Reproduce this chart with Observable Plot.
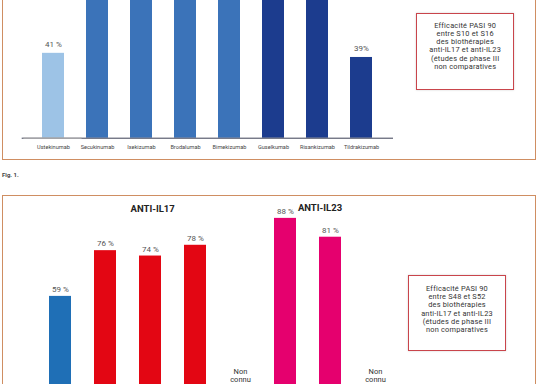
<!DOCTYPE html>
<html>
<head>
<meta charset="utf-8">
<script src="https://cdn.jsdelivr.net/npm/d3@7"></script>
<script src="https://cdn.jsdelivr.net/npm/@observablehq/plot@0.6"></script>
<style>
  html, body { margin: 0; padding: 0; background: #fff; }
  body { width: 538px; height: 384px; overflow: hidden; position: relative; font-family: Roboto, "Noto Sans", sans-serif; }
  .panel { position: absolute; box-sizing: border-box; border: 1.5px solid #cf8e62; }
  .chart { position: absolute; left: 0; }
  .info { position: absolute; box-sizing: border-box; border: 1.3px solid #c9454b; background: #fff;
          box-shadow: 0 0 2px rgba(0,0,0,0.18); text-align: center; color: #333; font-size: 7.4px; letter-spacing: 0.2px; white-space: nowrap; }
  .fig { position: absolute; left: 2px; top: 170.5px; font-size: 6px; line-height: 7px; font-weight: 700; color: #444; }
  .title { position: absolute; transform: translateX(-50%); font-size: 9.5px; line-height: 11px; font-weight: 700; color: #222; white-space: nowrap; }
</style>
</head>
<body>
<div class="panel" style="left:2px; top:-10px; width:534px; height:169.5px;"></div>
<div class="panel" style="left:2px; top:195.3px; width:534px; height:300px;"></div>
<div id="top" class="chart" style="top:-80px;"></div>
<div id="bottom" class="chart" style="top:180px;"></div>
<div class="info" style="left:416px; top:12.7px; width:98.3px; height:77.3px; padding-top:7.9px; line-height:8.3px;">
  Efficacité PASI 90<br>entre S10 et S16<br>des biothérapies<br>anti-IL17 et anti-IL23<br>(études de phase III<br>non comparatives
</div>
<div class="info" style="left:408.3px; top:275px; width:97.4px; height:75.7px; padding-top:8.9px; line-height:8.2px;">
  Efficacité PASI 90<br>entre S48 et S52<br>des biothérapies<br>anti-IL17 et anti-IL23<br>(études de phase III<br>non comparatives
</div>
<div class="fig">Fig. 1.</div>
<div class="title" style="left:152.7px; top:202.8px;">ANTI-IL17</div>
<div class="title" style="left:320px; top:202.2px;">ANTI-IL23</div>

<script>
// ---- data ----
const drugs = ["Ustekinumab","Secukinumab","Ixekizumab","Brodalumab","Bimekizumab","Guselkumab","Risankizumab","Tildrakizumab"];
const classes = ["IL12/23","IL17","IL17","IL17","IL17","IL23","IL23","IL23"];
// weeks 10-16 (bars cut by the crop: estimated values above the visible top, labels not visible)
const week16 = [41, 70, 71, 70, 86, 73, 75, 39];
const week16Labels = ["41 %", null, null, null, null, null, null, "39%"];
// weeks 48-52
const week52 = [59, 76, 74, 78, null, 88, 81, null];
const week52Labels = ["59 %", "76 %", "74 %", "78 %", null, "88 %", "81 %", null];
const unknownLabel = "Non\nconnu";

const classDomain = ["IL12/23", "IL17", "IL23"];
const topColors = ["#9dc3e6", "#3b73b9", "#1c3c8e"];
const bottomColors = ["#1f6fb6", "#e30613", "#e5006e"];

const topData = drugs.map((d, i) => ({drug: d, cls: classes[i], value: week16[i], label: week16Labels[i]}));
const topLabelled = topData.filter(d => d.label != null);
const bottomData = drugs.map((d, i) => ({drug: d, cls: classes[i], value: week52[i], label: week52Labels[i]}));
const known = bottomData.filter(d => d.value != null);
const unknown = bottomData.filter(d => d.value == null);

const topPlot = Plot.plot({
  width: 538, height: 238,
  marginTop: 10.7, marginBottom: 20.3, marginLeft: 21.7, marginRight: 145,
  x: {type: "band", domain: drugs, paddingInner: 0.5064, paddingOuter: 0.4187, label: null, tickSize: 0, tickPadding: 7},
  y: {domain: [0, 100], axis: null},
  color: {domain: classDomain, range: topColors},
  style: {fontFamily: "Roboto, sans-serif", fontSize: "5.6px", color: "#444", background: "transparent", overflow: "visible"},
  marks: [
    Plot.barY(topData, {x: "drug", y: "value", fill: "cls"}),
    Plot.ruleY([0], {stroke: "#3a3f55", strokeWidth: 1}),
    Plot.tickY([topData[0]], {x: "drug", y: 0, stroke: "#b3b3b3", strokeWidth: 1.2, insetLeft: -18.7, insetRight: -17.6}),
    Plot.text(topLabelled, {x: "drug", y: "value", text: "label", dy: -9, fontSize: 8, fill: "#555"})
  ]
});
document.getElementById("top").appendChild(topPlot);

const bottomPlot = Plot.plot({
  width: 538, height: 300,
  marginTop: 5.6, marginBottom: 25.4, marginLeft: 48.2, marginRight: 151.8,
  x: {type: "band", domain: drugs, paddingInner: 0.5126, paddingOuter: 0, axis: null},
  y: {domain: [0, 100], axis: null},
  color: {domain: classDomain, range: bottomColors},
  style: {fontFamily: "Roboto, sans-serif", fontSize: "6px", color: "#444", background: "transparent", overflow: "visible"},
  marks: [
    Plot.barY(known, {x: "drug", y: "value", fill: "cls"}),
    Plot.text(known, {x: "drug", y: "value", text: "label", dy: -7, fontSize: 8, fill: "#555"}),
    Plot.text(unknown, {x: "drug", text: () => unknownLabel, frameAnchor: "bottom", lineAnchor: "middle", dy: -79.6, fontSize: 7.5, lineHeight: 1.08, fill: "#333"})
  ]
});
document.getElementById("bottom").appendChild(bottomPlot);
</script>
</body>
</html>
